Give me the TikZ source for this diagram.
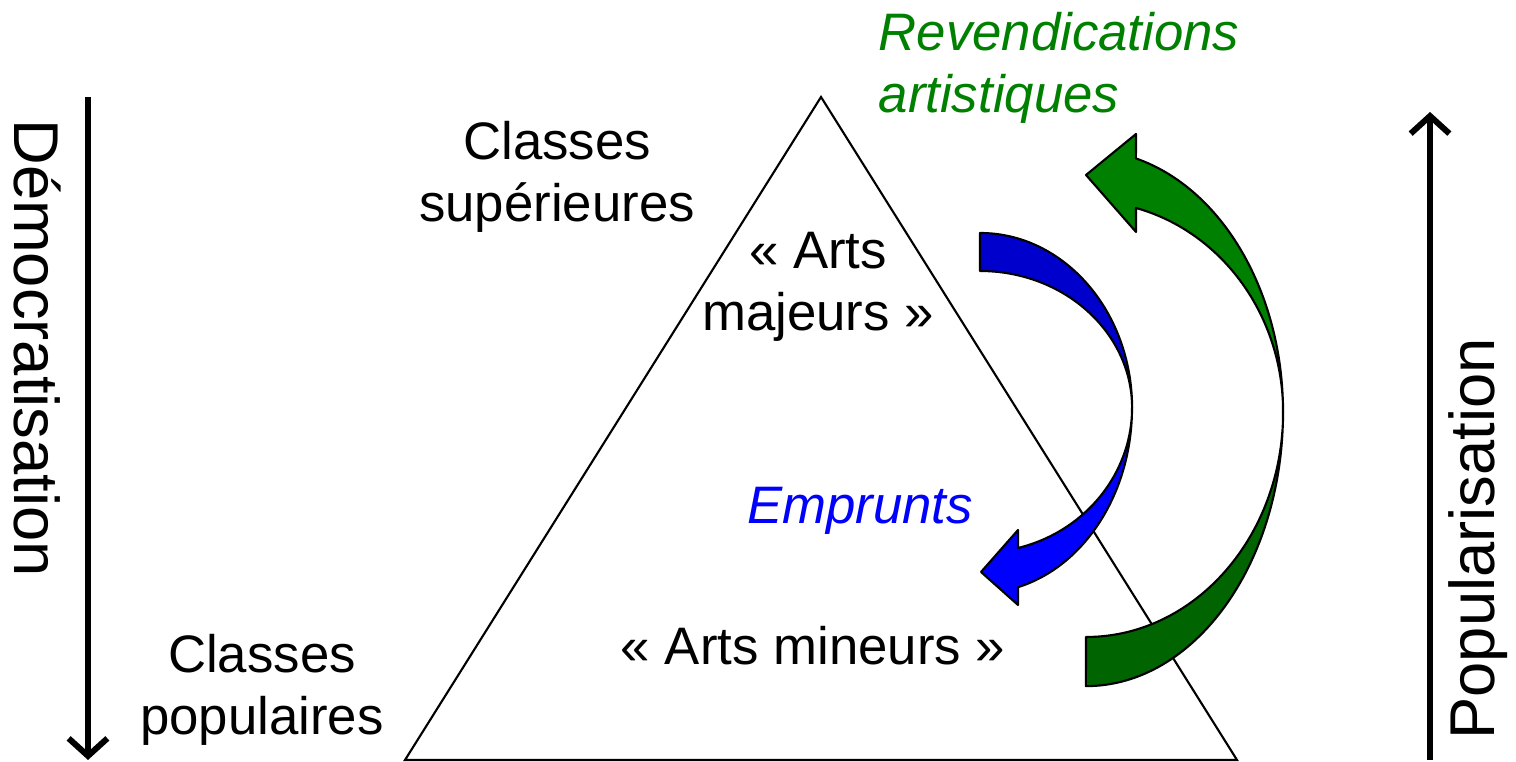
\documentclass[tikz,border=0pt]{standalone}
\usepackage{fontspec}
\setmainfont{Liberation Sans}
\usetikzlibrary{arrows.meta}

\definecolor{bluedark}{RGB}{0,0,204}
\definecolor{bluelight}{RGB}{0,0,255}
\definecolor{greenlight}{RGB}{0,128,0}
\definecolor{greendark}{RGB}{0,100,0}

\begin{document}
\begin{tikzpicture}[x=0.01cm,y=0.01cm,
    txt/.style={align=center,inner sep=0pt,font=\fontsize{15}{17.6}\selectfont},
    side/.style={inner sep=0pt,font=\fontsize{18}{21}\selectfont},
    axis/.style={line width=1.7pt,-{Straight Barb[length=5pt,width=11pt]}},
    band/.style={draw=black,line width=0.6pt,line join=round}]
  \useasboundingbox (0,0) rectangle (1516,762);
  % pyramid
  \draw[line width=0.6pt] (821,665) -- (1237,2) -- (405,2) -- cycle;
  % side axes
  \coordinate (demtop) at (88,665);
  \coordinate (dembot) at (88,2);
  \coordinate (popbot) at (1430,2);
  \coordinate (poptop) at (1430,650);
  \draw[axis] (demtop) -- (dembot);
  \draw[axis] (popbot) -- (poptop);
  \node[side,rotate=-90] (dem) at (37,414) {Démocratisation};
  \node[side,rotate=90] (pop) at (1478,223) {Popularisation};
  % texts
  \node[txt] (sup) at (557,585) {Classes\\supérieures};
  \node[txt] (pop2) at (262,72) {Classes\\populaires};
  \node[txt] (maj) at (818,475) {«~Arts\\majeurs~»};
  \node[txt] (min) at (813,116) {«~Arts mineurs~»};
  \node[txt,text=bluelight,font=\fontsize{15}{17.6}\selectfont\itshape] (emp) at (860,251) {Emprunts};
  \node[txt,align=left,anchor=west,text=greenlight,font=\fontsize{15}{17.6}\selectfont\itshape] (rev) at (878,694) {Revendications\\artistiques};
  % blue curved arrow
  \filldraw[band,fill=bluedark] (980,529)
    arc[start angle=90,end angle=0,x radius=1.52cm,y radius=1.75cm]
    arc[start angle=0,end angle=90,x radius=1.52cm,y radius=1.37cm] -- cycle;
  \filldraw[band,fill=bluelight] (1132,354)
    arc[start angle=0,end angle=-75.52,x radius=1.52cm,y radius=1.85cm]
    -- (1018,157) -- (981,190) -- (1018,232) -- (1018,214)
    arc[start angle=-75.52,end angle=0,x radius=1.52cm,y radius=1.45cm] -- cycle;
  % green curved arrow
  \filldraw[band,fill=greendark] (1283,350)
    arc[start angle=0,end angle=-90,x radius=1.97cm,y radius=2.74cm]
    -- (1086,125)
    arc[start angle=-90,end angle=0,x radius=1.97cm,y radius=2.25cm] -- cycle;
  \filldraw[band,fill=greenlight] (1283,350)
    arc[start angle=0,end angle=75.3,x radius=1.97cm,y radius=2.62cm]
    -- (1136,628) -- (1086,587) -- (1136,530) -- (1136,554)
    arc[start angle=75.3,end angle=0,x radius=1.97cm,y radius=2.11cm] -- cycle;
\end{tikzpicture}
\end{document}
